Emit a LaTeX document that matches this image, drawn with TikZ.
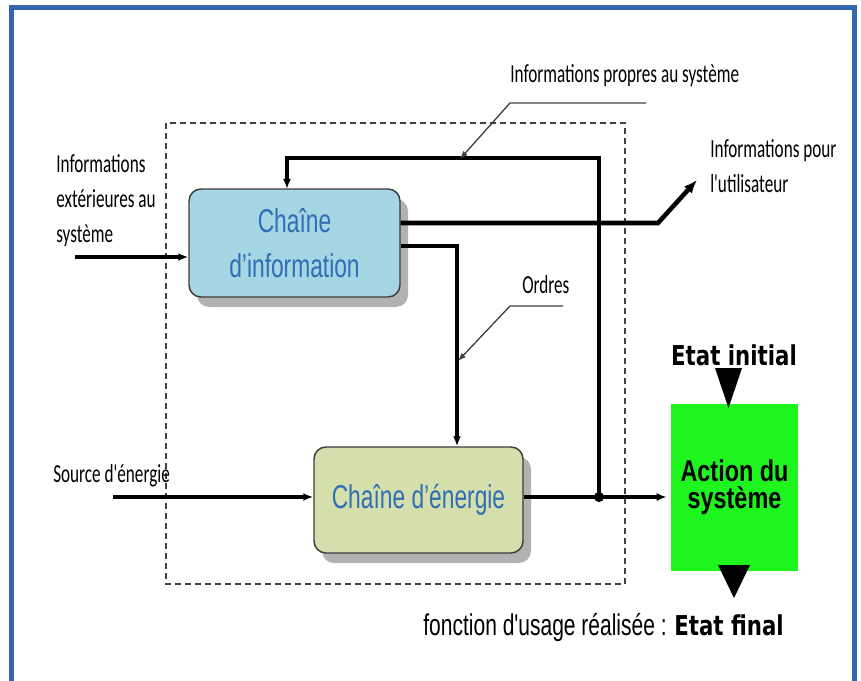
\documentclass[tikz,border=0pt]{standalone}
\usepackage{fontspec}
\usepackage{tikz}
\usetikzlibrary{arrows.meta}
\usetikzlibrary{shadows}
\usetikzlibrary{calc}

\newfontfamily\lblfont[FakeStretch=0.66,Ligatures=TeXOff]{Carlito}
\newfontfamily\chainfont[FakeStretch=0.69]{Liberation Sans}
\newfontfamily\actfont[FakeStretch=0.78]{Liberation Sans}
\newfontfamily\etatfont[FakeStretch=0.78]{DejaVu Sans}
\newfontfamily\usagefont[FakeStretch=0.7,Ligatures=TeXOff]{Liberation Sans}

\definecolor{frameblue}{RGB}{51,102,170}
\definecolor{infofill}{RGB}{166,213,228}
\definecolor{energyfill}{RGB}{212,223,172}
\definecolor{chaintext}{RGB}{48,110,182}
\definecolor{actiongreen}{RGB}{30,245,30}
\definecolor{boxline}{RGB}{60,60,60}

\tikzset{
  chainbox/.style={draw=boxline, line width=1.1pt, rounded corners=9pt, align=center, text=chaintext,
    font=\chainfont\fontsize{24.75}{33.75}\selectfont,
    drop shadow={shadow xshift=6pt,shadow yshift=-7.5pt,fill=black!30,opacity=1}},
  lbl/.style={anchor=north west, inner sep=0pt, align=left, font=\lblfont\fontsize{19.5}{26.25}\selectfont},
  etat/.style={inner sep=0pt, font=\etatfont\bfseries\fontsize{20.5}{24}\selectfont},
  flow/.style={line width=2.6pt, -{Latex[length=7.5pt,width=6pt]}},
  leader/.style={draw=black!75, line width=1pt, -{Latex[length=6pt,width=4.5pt]}},
}

\begin{document}
\begin{tikzpicture}[x=0.75pt,y=0.75pt,yscale=-1,xscale=1]
\useasboundingbox (0,0) rectangle (861,681);

%Frame
\draw [frameblue, line width=3.75pt] (11.5,681) -- (11.5,7.5) -- (854.5,7.5) -- (854.5,681);
%Dashed system boundary
\draw [black!75, line width=1.1pt, dash pattern={on 4.5pt off 3pt}] (166,123) rectangle (625,584);

%Blocks
\node [chainbox, fill=infofill, minimum width=158.25pt, minimum height=81pt] (info) at (294.5,243) {Chaîne\\d’information};
\node [chainbox, fill=energyfill, minimum width=156.75pt, minimum height=79.5pt] (energie) at (418.5,500) {Chaîne d’énergie};
\node [fill=actiongreen, minimum width=95.25pt, minimum height=125.25pt, align=center,
  font=\actfont\bfseries\fontsize{22.5}{20.5}\selectfont] (action) at (734.5,487.5) {Action du\\système};

%Points on the connectors
\coordinate (extin) at (75,257);
\coordinate (srcin) at (113,497);
\coordinate (jn) at (599,497);
\coordinate (fbcorner) at (599,158);
\coordinate (fbin) at (287,189);
\coordinate (ordcorner) at (457,246);
\coordinate (userout) at (658,223);
\coordinate (usertip) at (697,180);

%Flows
\draw [flow] (extin) -- (extin -| info.west);
\draw [flow] (srcin) -- (srcin -| energie.west);
\draw [flow] (jn -| energie.east) -- ($(jn -| action.west)+(-4,0)$);
\draw [flow] (jn) -- (fbcorner) -| (fbin);
\draw [flow] (ordcorner -| info.east) -- (ordcorner) -- (ordcorner |- energie.north);
\draw [line width=3.4pt, -{Latex[length=10pt,width=8pt]}] (userout -| info.east) -- (userout) -- (usertip);
\fill (jn) circle [radius=3.8pt];

%Leader lines
\coordinate (propA) at (646,103);
\coordinate (propB) at (510,103);
\coordinate (propC) at (460,159);
\draw [leader] (propA) -- (propB) -- (propC);
\coordinate (ordA) at (563,306);
\coordinate (ordB) at (510,306);
\coordinate (ordC) at (458,361);
\draw [leader] (ordA) -- (ordB) -- (ordC);

%Triangles
\fill (715,368) -- (742,368) -- (728.5,408) -- cycle;
\fill (718,565) -- (750,565) -- (734,598) -- cycle;

% Text Nodes
\node [lbl] (extlbl) at (56,154) {Informations\\extérieures au\\système};
\node [lbl] (srclbl) at (53,464) {Source d'énergie};
\node [lbl] (proplbl) at (510,64) {Informations propres au système};
\node [lbl] (userlbl) at (710,139) {Informations pour\\l'utilisateur};
\node [lbl] (ordlbl) at (522,275) {Ordres};
\node [etat, anchor=base] (initlbl) at (734,365) {Etat initial};
\node [etat, anchor=base west] (finallbl) at (674,635) {Etat final};
\node [anchor=base east, inner sep=0pt, font=\usagefont\fontsize{22.5}{27}\selectfont] (usagelbl) at (667,635) {fonction d'usage réalisée :};

\end{tikzpicture}
\end{document}
